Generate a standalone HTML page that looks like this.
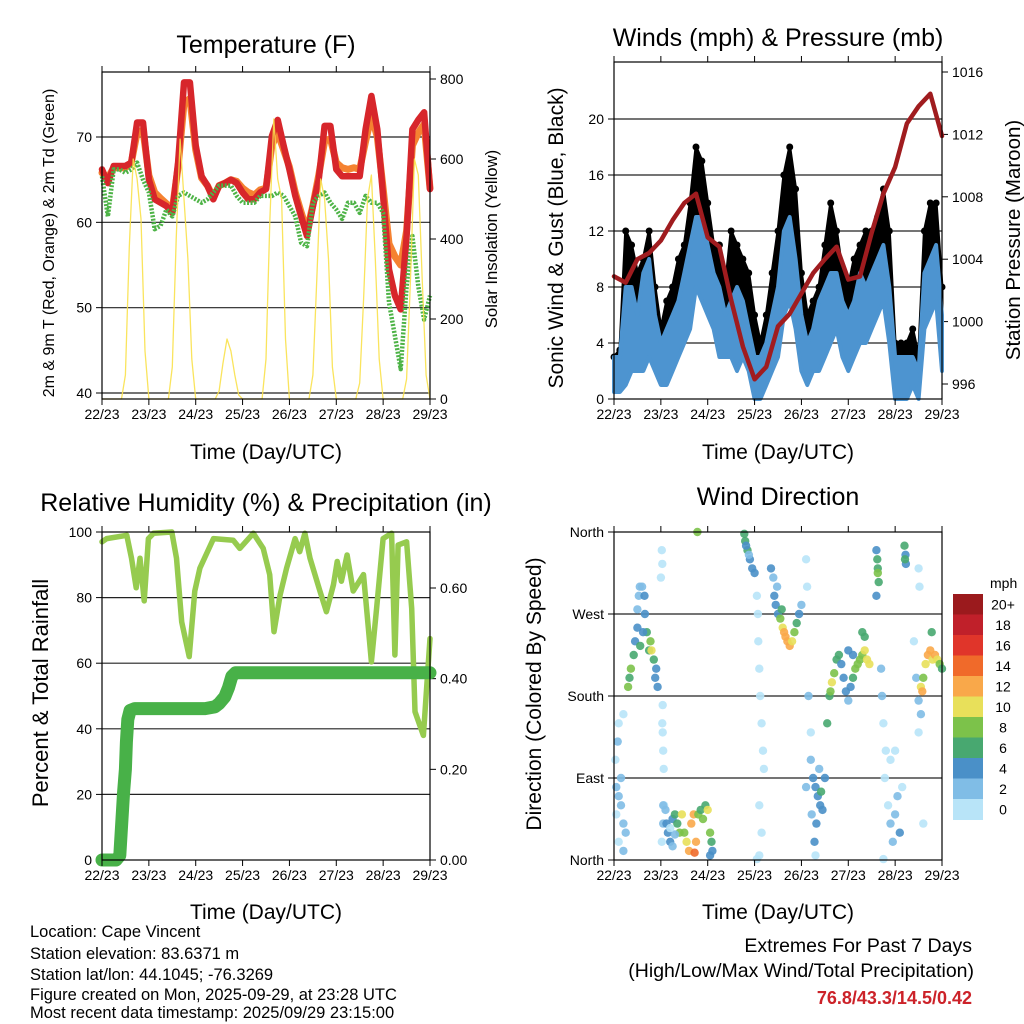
<!DOCTYPE html>
<html><head><meta charset="utf-8"><title>Cape Vincent Meteogram</title>
<style>
html,body{margin:0;padding:0;background:#fff;}
svg{display:block;font-family:"Liberation Sans",Arial,sans-serif;}
</style></head>
<body>
<svg id="chart" width="1024" height="1024" viewBox="0 0 1024 1024" xmlns="http://www.w3.org/2000/svg">
<rect width="1024" height="1024" fill="#fff"/>
<g id="layer"></g>
<text x="266" y="53" font-size="25" text-anchor="middle">Temperature (F)</text>
<text x="778" y="46" font-size="25" text-anchor="middle">Winds (mph) &amp; Pressure (mb)</text>
<text x="266" y="511" font-size="25" text-anchor="middle">Relative Humidity (%) &amp; Precipitation (in)</text>
<text x="778" y="505" font-size="25" text-anchor="middle">Wind Direction</text>
<text x="266" y="459" font-size="21" text-anchor="middle">Time (Day/UTC)</text>
<text x="778" y="459" font-size="21" text-anchor="middle">Time (Day/UTC)</text>
<text x="266" y="919" font-size="21" text-anchor="middle">Time (Day/UTC)</text>
<text x="778" y="919" font-size="21" text-anchor="middle">Time (Day/UTC)</text>
<text transform="translate(54,243) rotate(-90)" font-size="16" text-anchor="middle">2m &amp; 9m T (Red, Orange) &amp; 2m Td (Green)</text>
<text transform="translate(497,239) rotate(-90)" font-size="16.7" text-anchor="middle">Solar Insolation (Yellow)</text>
<text transform="translate(563,238) rotate(-90)" font-size="21" text-anchor="middle">Sonic Wind &amp; Gust (Blue, Black)</text>
<text transform="translate(1020,240) rotate(-90)" font-size="20.5" text-anchor="middle">Station Pressure (Maroon)</text>
<text transform="translate(48,693) rotate(-90)" font-size="22" text-anchor="middle">Percent &amp; Total Rainfall</text>
<text transform="translate(541,694) rotate(-90)" font-size="21" text-anchor="middle">Direction (Colored By Speed)</text>
<g font-size="16.5">
<text x="30" y="937">Location: Cape Vincent</text>
<text x="30" y="959">Station elevation: 83.6371 m</text>
<text x="30" y="980">Station lat/lon: 44.1045; -76.3269</text>
<text x="30" y="1000">Figure created on Mon, 2025-09-29, at 23:28 UTC</text>
<text x="30" y="1018">Most recent data timestamp: 2025/09/29 23:15:00</text>
</g>
<g text-anchor="end">
<text x="972" y="952" font-size="19.5">Extremes For Past 7 Days</text>
<text x="974" y="977" font-size="19.5">(High/Low/Max Wind/Total Precipitation)</text>
<text x="972" y="1004" font-size="18" font-weight="bold" fill="#cc2229">76.8/43.3/14.5/0.42</text>
</g>
</svg>
<script>
// ---------- data ----------
const dayLabels = ["22/23","23/23","24/23","25/23","26/23","27/23","28/23","29/23"];
const tempTimes = [0,0.125,0.25,0.375,0.5,0.625,0.75,0.875,1,1.125,1.25,1.375,1.5,1.625,1.75,1.875,2,2.125,2.25,2.375,2.5,2.625,2.75,2.875,3,3.125,3.25,3.375,3.5,3.625,3.75,3.875,4,4.125,4.25,4.375,4.5,4.625,4.75,4.875,5,5.125,5.25,5.375,5.5,5.625,5.75,5.875,6,6.125,6.25,6.375,6.5,6.625,6.75,6.875,7];
const temp2m = [66.2,64.6,66.6,66.6,66.6,67,71.7,71.7,65,62.7,62.3,61.9,61.1,67,76.4,76.4,69,65.4,64.3,62.7,64.3,64.6,65,64.6,63.5,62.7,62.7,63.5,63.9,70.1,72,69,66.2,63.1,60.7,58.4,61.9,65,71.3,71.3,66.2,65.4,65.4,65.4,65.4,70.9,74.8,70.9,63.1,54.5,51.4,49.8,58.4,70.9,72,72.9,63.9];
const temp9m = [65.8,65.2,66.4,66.4,66.4,67,70.5,70.8,65.5,63.5,62.8,62.2,61.5,66.5,74,74.5,68.5,65.2,64.3,62.9,64.3,64.6,65,64.8,64,63.5,63.2,63.8,64,69,70.5,68.5,66.5,63.5,61.2,59,62,65.5,69.5,69.8,67,66.4,66.2,66.4,66.2,69.5,72.5,70,64,57.5,56,55,59,69,70.5,71.5,64];
const dew2m = [65.4,60.7,66.2,66.2,65.8,66.2,67,65,63.5,59.2,59.6,61.5,60.7,63.1,63.5,63.1,62.7,62.3,62.7,63.5,64.3,64.3,64.3,63.1,62.3,62.3,62.3,63.1,63.1,63.1,63.5,63.1,61.9,60.7,57.6,57.2,62.3,63.1,63.5,62.3,61.5,60.4,62.3,62.3,61.1,63.1,62.3,62.3,61.1,50.6,46.7,42.8,52.5,58.4,52.5,48.6,51.4];
const solar = [0,0,0,0,0,0,60,380,600,550,450,120,
 0,0,0,0,0,0,80,400,650,500,350,100,
 0,0,0,0,0,0,20,90,150,120,60,10,
 0,0,0,0,0,0,100,450,700,550,500,150,
 0,0,0,0,0,0,60,300,550,500,350,80,
 0,0,0,0,0,0,40,250,500,560,350,100,
 0,0,0,0,0,0,50,300,600,560,300,60,0];
const tempTicks = [40,50,60,70];
const solarTicks = [0,200,400,600,800];

const windLo = [0.5,0.5,1,2,2,2,3,2,1,1,2,3,4,5,8,7,6,5,3,3,3,2,3,2,0,0,1,2,3,6,7,5,2,1,2,2,3,4,5,3,2,3,4,4,5,6,7,4,0,0,0,1,0,5,6,7,2];
const windHi = [3,3,8,8,6,9,10,6,4,5,6,7,9,11,13,13,11,9,8,6,7,8,7,5,3,3,4,6,8,12,13,10,6,4,5,7,8,9,9,7,6,7,9,8,9,10,11,8,3,3,3,3,2,9,10,11,6];
const gustHi = [3,3.5,12,11,9,10,12,8,5,7,8,10,11,14,18,17,14,11,11,8,12,11,10,9,6,4,6,9,12,16,18,15,9,6,7,8,11,14,12,9,8,10,11,12,12,13,15,12,4,4,4,5,3,12,14,14,8];
const pressure = [1002.9,1002.5,1004,1004.4,1005.2,1006.5,1007.6,1008.2,1005.4,1004.8,1001.4,998.4,996.3,997.1,999.7,1000.5,1001.8,1003.1,1004,1004.8,1002.7,1002.9,1005.7,1008.2,1009.9,1012.7,1013.8,1014.6,1011.9];
const windTicks = [0,4,8,12,16,20];
const pressTicks = [996,1000,1004,1008,1012,1016];

const rhTimes = [0,0.1,0.53,0.63,0.73,0.81,0.9,0.99,1.1,1.49,1.59,1.7,1.86,1.98,2.09,2.38,2.8,2.94,3.23,3.44,3.58,3.67,3.8,3.94,4.12,4.22,4.33,4.44,4.65,4.79,4.94,5.02,5.11,5.23,5.36,5.58,5.68,5.75,5.86,6.0,6.18,6.25,6.32,6.5,6.61,6.68,6.86,7.0];
const rhValues = [97,98,99,92,83,92,79,98,99.6,100,92,72.6,62,82,89,98,97.5,95,99.6,95,87,69.6,80.8,89,98,94,99.6,92,82,75.7,84,91,85,93,82,87,71.6,60.4,76.7,98,99.6,62.5,96,97,76.7,45.2,38,67.5];
const precipTimes = [0,0.3,0.38,0.46,0.5,0.52,0.55,0.6,0.7,2.2,2.41,2.5,2.62,2.7,2.77,2.85,7.0];
const precipValues = [0,0,0.01,0.15,0.2,0.26,0.31,0.33,0.334,0.334,0.338,0.345,0.36,0.38,0.405,0.413,0.413];
const rhTicks = [0,20,40,60,80,100];
const precipTicks = [0,0.2,0.4,0.6];

const dirT = [0.05,0.1,0.15,0.2,0.25,0.1,0.2,0.05,0.15,0.03,0.08,0.1,0.2,
 0.3,0.33,0.36,0.42,0.45,0.5,0.5,0.53,0.55,0.6,0.65,0.66,0.7,0.75,0.78,0.8,0.85,0.9,0.93,0.88,0.62,0.56,
 1.02,1.03,1.0,1.04,1.03,1.04,1.05,1.06,1.07,1.05,1.02,
 1.05,1.1,1.12,1.15,1.2,1.25,1.3,1.35,1.4,1.45,1.5,1.55,1.6,1.65,1.7,1.72,1.75,1.8,1.85,1.9,1.95,2.0,2.05,2.08,2.1,2.05,1.25,1.3,1.2,1.78,
 2.78,2.8,2.85,2.9,2.95,3.0,2.82,2.88,
 3.05,3.07,3.08,3.1,3.12,3.15,3.18,3.2,3.1,3.15,3.1,3.05,
 3.35,3.4,3.42,3.45,3.5,3.55,3.6,3.63,3.66,3.7,3.75,3.8,3.85,3.9,3.95,4.0,3.58,3.48,
 4.1,4.12,4.15,4.2,4.1,
 4.2,4.25,4.3,4.35,4.4,4.45,4.5,4.32,4.28,4.38,4.42,4.22,4.3,
 4.55,4.6,4.62,4.65,4.7,4.75,4.8,4.85,4.9,4.95,5.0,5.05,5.1,5.15,5.2,5.25,5.3,5.35,5.4,5.45,5.3,5.35,5.1,5.0,
 5.6,5.62,5.63,5.65,5.6,5.63,
 5.7,5.72,5.75,5.8,5.78,5.85,5.9,5.95,6.0,6.05,6.1,6.15,5.9,6.0,5.75,
 6.2,6.22,6.23,6.21,
 6.5,6.52,6.4,6.45,6.5,6.55,6.5,6.6,
 6.55,6.58,6.6,6.65,6.7,6.75,6.8,6.85,6.9,6.95,7.0,6.78];
const dirDeg = [80,70,60,40,30,20,10,50,90,110,130,150,160,
 190,200,210,225,240,255,275,290,300,300,290,270,250,230,240,230,220,210,190,200,250,235,
 340,325,310,170,150,140,120,100,60,40,20,
 60,55,40,30,20,45,50,40,30,50,30,20,10,40,50,8,20,50,55,45,60,55,30,20,10,5,15,28,35,360,
 358,350,340,330,320,315,345,335,
 290,270,240,210,180,150,120,100,60,30,5,1,
 320,310,290,280,270,265,255,250,245,240,235,240,250,260,270,280,275,300,
 330,300,180,140,80,
 110,90,80,70,60,55,90,40,20,100,75,50,5,
 150,180,185,195,205,220,225,215,200,185,175,190,200,210,215,220,225,230,220,215,250,245,225,230,
 340,330,320,305,290,315,
 210,180,150,120,90,60,40,20,50,70,30,80,110,120,1,
 345,335,325,330,
 320,300,240,200,175,160,140,40,
 190,185,200,215,225,230,220,225,220,215,210,250];
const dirSpd = [2,3,2,2,3,1,2,1,3,1,2,1,0,
 8,7,8,6,4,4,3,3,2,2,4,4,6,7,9,10,6,4,5,4,5,6,
 1,1,1,1,1,1,1,0,1,2,1,
 2,3,4,4,4,5,6,7,8,10,8,10,12,12,13,15,12,8,7,8,7,10,8,6,5,4,3,2,1,8,
 6,7,6,5,4,4,5,3,
 1,1,1,1,1,1,1,0,1,1,1,1,
 4,3,4,4,5,8,10,12,12,13,13,10,8,6,4,3,6,3,
 1,1,3,1,2,
 3,4,4,5,4,5,4,5,4,3,6,3,1,
 6,7,9,10,8,7,6,5,4,4,3,5,6,8,8,8,9,10,11,10,7,7,4,4,
 4,6,7,6,4,8,
 3,2,1,1,1,1,2,2,3,3,4,1,1,0,0,
 6,5,4,6,
 1,1,1,2,3,2,1,1,
 10,12,8,10,12,13,10,12,10,8,6,6];
const dirLabels = ["North","East","South","West","North"];
const speedLabels = ["0","2","4","6","8","10","12","14","16","18","20+"];
const speedColors = ["#b8e4f8","#80bde6","#4a90c8","#48a870","#7cc24a","#e8e05a","#f9a84a","#f06a2a","#e0352a","#c0202a","#9b1a1d"];

// ---------- helpers ----------
const NS = "http://www.w3.org/2000/svg";
const layer = document.getElementById("layer");
function mk(tag, attrs, parent) {
  const e = document.createElementNS(NS, tag);
  for (const k in attrs) e.setAttribute(k, attrs[k]);
  (parent || layer).appendChild(e);
  return e;
}
function linScale(d0, d1, r0, r1) { return v => r0 + (v - d0) * (r1 - r0) / (d1 - d0); }
function pathFrom(xs, ys, fx, fy) {
  let d = "";
  const n = Math.min(xs.length, ys.length);
  for (let i = 0; i < n; i++) d += (i ? "L" : "M") + fx(xs[i]).toFixed(1) + "," + fy(ys[i]).toFixed(1);
  return d;
}
function frame(P, name) {
  const g = mk("g", {});
  
  
  const sx = linScale(0, 7, P.x0, P.x1);
  for (let i = 0; i < dayLabels.length; i++) {
    const x = sx(i);
    mk("line", {x1: x, y1: P.y0, x2: x, y2: P.y0 - 6, stroke: "#000", "stroke-width": 1}, g);
    mk("line", {x1: x, y1: P.y1, x2: x, y2: P.y1 + 6, stroke: "#000", "stroke-width": 1}, g);
    const t = mk("text", {x: x, y: P.y1 + 20, "font-size": 14, "text-anchor": "middle"}, g);
    
    
    t.textContent = dayLabels[i];
  }
  mk("rect", {x: P.x0, y: P.y0, width: P.x1 - P.x0, height: P.y1 - P.y0, fill: "none", stroke: "#000", "stroke-width": 1.2}, g);
  return g;
}
function yAxis(P, ticks, fy, side, labelFn, grid) {
  const g = mk("g", {});
  
  
  ticks.forEach((v, i) => {
    const y = fy(v);
    if (side === "left") {
      mk("line", {x1: P.x0 - 6, y1: y, x2: P.x0, y2: y, stroke: "#000"}, g);
      if (grid && y > P.y0 + 2 && y < P.y1 - 2) mk("line", {x1: P.x0, y1: y, x2: P.x1, y2: y, stroke: "#222", "stroke-width": 1.2}, g);
      const t = mk("text", {x: P.x0 - 10, y: y + 5, "font-size": 14, "text-anchor": "end"}, g);
      
      
      t.textContent = labelFn(v, i);
    } else {
      mk("line", {x1: P.x1, y1: y, x2: P.x1 + 6, y2: y, stroke: "#000"}, g);
      const t = mk("text", {x: P.x1 + 10, y: y + 5, "font-size": 14, "text-anchor": "start"}, g);
      
      
      t.textContent = labelFn(v, i);
    }
  });
}
function colorFor(s) {
  let i = Math.floor(s / 2);
  if (i < 0) i = 0; if (i > 10) i = 10;
  return speedColors[i];
}

// ---------- panel 1: temperature ----------
(function(){
  const P = {x0: 102, x1: 430, y0: 72, y1: 399};
  const sx = linScale(0, 7, P.x0, P.x1);
  const sy = linScale(40, 70, 393, 137);
  const sySol = linScale(0, 800, 399, 79);
  yAxis(P, tempTicks, sy, "left", v => String(v), true);
  yAxis(P, solarTicks, sySol, "right", v => String(v), false);
  const solarTimes = solar.map((v, i) => i / 12);
  let e;
  e = mk("path", {d: pathFrom(tempTimes, temp9m, sx, sy), fill: "none", stroke: "#f58231", "stroke-width": 7, "stroke-linejoin": "round", "stroke-linecap": "round"});
  
  
  e = mk("path", {d: pathFrom(tempTimes, temp2m, sx, sy), fill: "none", stroke: "#d7262b", "stroke-width": 6.5, "stroke-linejoin": "round", "stroke-linecap": "round"});
  
  
  e = mk("path", {d: pathFrom(tempTimes, dew2m, sx, sy), fill: "none", stroke: "#4db346", "stroke-width": 4.5, "stroke-dasharray": "2 1.5", "stroke-linejoin": "round"});
  
  
  e = mk("path", {d: pathFrom(solarTimes, solar, sx, sySol), fill: "none", stroke: "#f9e14b", "stroke-width": 1.3, "stroke-linejoin": "round", opacity: 0.9});
  
  
  frame(P, "temperature-panel");
})();

// ---------- panel 2: winds & pressure ----------
(function(){
  const P = {x0: 614, x1: 942, y0: 62, y1: 399};
  const sx = linScale(0, 7, P.x0, P.x1);
  const sy = linScale(0, 4, 399, 343);
  const syP = linScale(996, 1016, 384, 72);
  yAxis(P, windTicks, sy, "left", v => String(v), true);
  yAxis(P, pressTicks, syP, "right", v => String(v), false);
  const wt = windLo.map((v, i) => i * 0.125);
  const pt = pressure.map((v, i) => i * 0.25);
  let d = pathFrom(wt, gustHi, sx, sy);
  for (let i = wt.length - 1; i >= 0; i--) d += "L" + sx(wt[i]).toFixed(1) + "," + sy(windHi[i]).toFixed(1);
  let e = mk("path", {d: d + "Z", fill: "#000", stroke: "#000", "stroke-width": 3, "stroke-linejoin": "round"});
  
  
  const gg = mk("g", {});
  
  
  for (let i = 0; i < wt.length; i++) {
    const c = mk("circle", {cx: sx(wt[i]), cy: sy(gustHi[i]), r: 3.5, fill: "#000"}, gg);
    
    
  }
  d = pathFrom(wt, windHi, sx, sy);
  for (let i = wt.length - 1; i >= 0; i--) d += "L" + sx(wt[i]).toFixed(1) + "," + sy(windLo[i]).toFixed(1);
  e = mk("path", {d: d + "Z", fill: "#4d94d0", stroke: "#4d94d0", "stroke-width": 4, "stroke-linejoin": "round"});
  
  
  e = mk("path", {d: pathFrom(pt, pressure, sx, syP), fill: "none", stroke: "#a01c1f", "stroke-width": 4.5, "stroke-linejoin": "round", "stroke-linecap": "round"});
  
  
  frame(P, "winds-panel");
})();

// ---------- panel 3: RH & precipitation ----------
(function(){
  const P = {x0: 102, x1: 430, y0: 532, y1: 860};
  const sx = linScale(0, 7, P.x0, P.x1);
  const sy = linScale(0, 100, 860, 532);
  const syPr = linScale(0, 0.6, 860, 588);
  yAxis(P, rhTicks, sy, "left", v => String(v), true);
  yAxis(P, precipTicks, syPr, "right", v => v.toFixed(2), false);
  let e = mk("path", {d: pathFrom(rhTimes, rhValues, sx, sy), fill: "none", stroke: "#96cb4f", "stroke-width": 5.5, "stroke-linejoin": "round", "stroke-linecap": "round"});
  
  
  e = mk("path", {d: pathFrom(precipTimes, precipValues, sx, syPr), fill: "none", stroke: "#48b148", "stroke-width": 13, "stroke-linejoin": "round", "stroke-linecap": "round"});
  
  
  frame(P, "humidity-panel");
})();

// ---------- panel 4: wind direction ----------
(function(){
  const P = {x0: 614, x1: 942, y0: 532, y1: 860};
  const sx = linScale(0, 7, P.x0, P.x1);
  const sy = linScale(0, 360, 860, 532);
  yAxis(P, [0, 90, 180, 270, 360], sy, "left", (v, i) => dirLabels[i], true);
  const g = mk("g", {});
  
  
  const n = Math.min(dirT.length, dirDeg.length, dirSpd.length);
  for (let i = 0; i < n; i++) {
    const c = mk("circle", {cx: sx(dirT[i]).toFixed(1), cy: sy(dirDeg[i]).toFixed(1), r: 4.2, fill: colorFor(dirSpd[i]), opacity: 0.9}, g);
    
    
  }
  frame(P, "wind-direction-panel");
  const cb = mk("g", {});
  
  
  const top = 594, h = 20.5;
  const u = mk("text", {x: 990, y: 588, "font-size": 14}, cb);
  
  
  u.textContent = "mph";
  for (let i = 0; i < speedLabels.length; i++) {
    const k = speedLabels.length - 1 - i;
    const r = mk("rect", {x: 953, y: top + i * h, width: 30, height: h + 0.5, fill: speedColors[k]}, cb);
    
    
    const t = mk("text", {x: 1003, y: top + i * h + h / 2 + 5, "font-size": 14, "text-anchor": "middle"}, cb);
    
    
    t.textContent = speedLabels[k];
  }
})();
</script>
</body></html>
